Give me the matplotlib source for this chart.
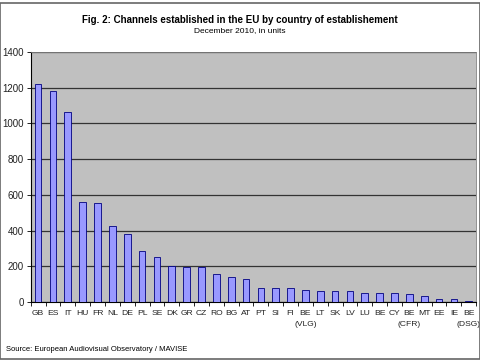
import numpy as np
import matplotlib
matplotlib.use("Agg")
import matplotlib.pyplot as plt
import matplotlib.transforms as mtransforms
from matplotlib.patches import Rectangle

plt.rcParams['font.family'] = ['Liberation Sans', 'DejaVu Sans']

countries = ['GB', 'ES', 'IT', 'HU', 'FR', 'NL', 'DE', 'PL', 'SE', 'DK', 'GR', 'CZ',
             'RO', 'BG', 'AT', 'PT', 'SI', 'FI', 'BE\n(VLG)', 'LT', 'SK', 'LV', 'LU',
             'BE', 'CY', 'BE\n(CFR)', 'MT', 'EE', 'IE', 'BE\n(DSG)']
channels = [1222, 1182, 1062, 561, 553, 425, 383, 283, 251, 201, 196, 196,
            155, 138, 128, 80, 80, 78, 69, 62, 62, 62, 52, 50, 50, 45, 34, 18, 18, 6]
yticks = [0, 200, 400, 600, 800, 1000, 1200, 1400]

fig = plt.figure(figsize=(4.8, 3.6), dpi=100)
ax = fig.add_axes([0.064, 0.161, 0.928, 0.695])

x = np.arange(len(countries))
ax.set_facecolor('#c0c0c0')
ax.bar(x, channels, width=0.45, color='#9999ff', edgecolor='#000080', linewidth=0.6, zorder=3)

ax.set_ylim(0, 1400)
ax.set_xlim(-0.5, len(countries) - 0.5)
ax.set_yticks(yticks)
ax.set_yticklabels([str(v) for v in yticks], fontsize=7, color='#222222')
ax.yaxis.grid(True, color='#333333', linewidth=0.9, zorder=1)

# first line as tick label, region code below as separate text
first = [c.split('\n')[0] for c in countries]
ax.set_xticks(x)
ax.set_xticklabels(first, fontsize=6.1, color='#222222')
ax.tick_params(axis='x', length=0, pad=6)
trans = mtransforms.blended_transform_factory(ax.transData, ax.transAxes)
for i, c in enumerate(countries):
    if '\n' in c:
        ax.text(i, -0.074, c.split('\n')[1], transform=trans, ha='center', va='top',
                fontsize=6.1, color='#222222', clip_on=False)

ax.set_xticks(np.arange(-0.5, len(countries), 1), minor=True)
ax.tick_params(axis='x', which='minor', length=3, width=0.6, direction='out')
ax.tick_params(axis='y', length=3, width=0.6, direction='out', pad=2)
for s in ['top', 'right']:
    ax.spines[s].set_color('#808080')
    ax.spines[s].set_linewidth(0.6)
for s in ['left', 'bottom']:
    ax.spines[s].set_color('#000000')
    ax.spines[s].set_linewidth(0.8)

fig.text(0.5, 0.945, 'Fig. 2: Channels established in the EU by country of establishement',
         ha='center', va='center', fontsize=7, fontweight='bold')
fig.text(0.5, 0.915, 'December 2010, in units', ha='center', va='center', fontsize=6)
fig.text(0.012, 0.028, 'Source: European Audiovisual Observatory / MAVISE',
         ha='left', va='center', fontsize=5.5)

fig.patches.append(Rectangle((0.001, 0.003), 0.998, 0.99, transform=fig.transFigure,
                             fill=False, edgecolor='#666666', linewidth=1.2))

fig.savefig('out.png', dpi=100)
